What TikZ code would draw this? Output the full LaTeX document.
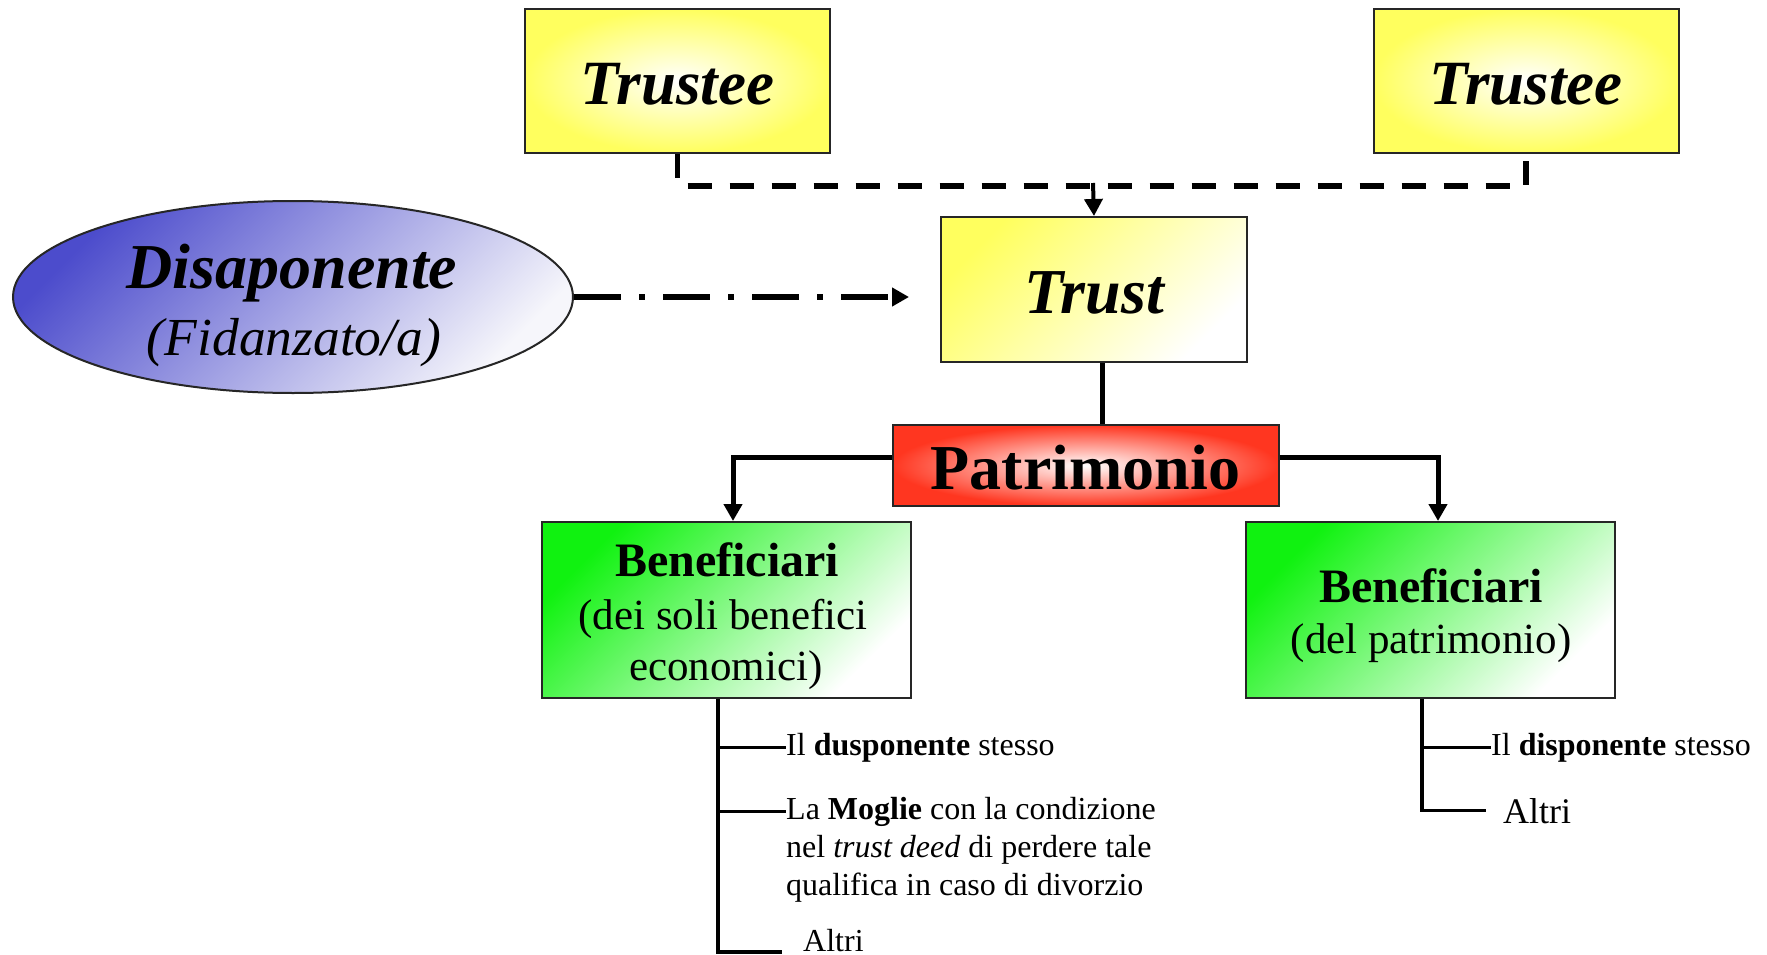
\documentclass[tikz,border=0pt]{standalone}
\usepackage{fontspec}
\setmainfont{Liberation Serif}
\usetikzlibrary{arrows.meta,shapes.geometric,calc}
\definecolor{tyellow}{HTML}{FFFF5E}
\definecolor{tblue}{HTML}{4C4CCC}
\definecolor{tbluew}{HTML}{F6F6FB}
\definecolor{tred}{HTML}{FF3620}
\definecolor{tgreen}{HTML}{10F210}
\newcommand{\fsz}[1]{\fontsize{#1}{#1}\selectfont}
\begin{document}
\begin{tikzpicture}[x=1pt,y=-1pt,
  box/.style={draw=black!85, line width=2pt, inner sep=0pt, rectangle, text depth=0pt},
  trusteebox/.style={box, inner color=white, outer color=tyellow, minimum width=305pt, minimum height=144pt, text height=48pt, font=\fsz{63}\bfseries\itshape},
  trustbox/.style={box, top color=tyellow, bottom color=white, shading angle=45, minimum width=306pt, minimum height=145pt, text height=47pt, font=\fsz{64}\bfseries\itshape},
  patrbox/.style={box, inner color=white, outer color=tred, minimum width=386pt, minimum height=81pt, text height=47pt, font=\fsz{64}\bfseries},
  benbox/.style={box, top color=tgreen, bottom color=white, shading angle=45, minimum width=369pt, minimum height=176pt},
  ellbox/.style={draw=black!85, line width=2pt, ellipse, inner sep=0pt, top color=tblue, bottom color=tbluew, shading angle=45, minimum width=560pt, minimum height=192pt},
  txt/.style={inner sep=0pt, anchor=base},
  listtxt/.style={inner sep=0pt, anchor=base west, font=\fsz{32}},
  conn/.style={line width=5pt},
  arr/.style={-{Triangle[width=18pt,length=17pt]}},
  listline/.style={line width=3.5pt}
]
\fill[white] (0,0) rectangle (1767,955);
\useasboundingbox (0,0) rectangle (1767,955);

% boxes
\node[trusteebox] (t1) at (677.5,81) {Trustee};
\node[trusteebox] (t2) at (1526,81) {Trustee};
\node[trustbox] (trust) at (1094,289.5) {Trust};
\node[ellbox] (ell) at (293,297) {};
\node[txt, font=\fsz{64}\bfseries\itshape] (ellA) at (292,288) {Disaponente};
\node[txt, font=\fsz{53.5}\itshape] (ellB) at (294,355) {(Fidanzato/a)};
\node[patrbox] (patr) at (1085.5,465.5) {Patrimonio};

\node[benbox] (benL) at (726,610) {};
\node[txt, font=\fsz{48}\bfseries] (benLa) at (727,576) {Beneficiari};
\node[txt, font=\fsz{43}] (benLb) at (723,629) {(dei soli benefici};
\node[txt, font=\fsz{43}] (benLc) at (726,680) {economici)};

\node[benbox] (benR) at (1430,610) {};
\node[txt, font=\fsz{48}\bfseries] (benRa) at (1431,602) {Beneficiari};
\node[txt, font=\fsz{43}] (benRb) at (1431,653) {(del patrimonio)};

% lists
\node[listtxt] (L1) at (786,755) {Il \textbf{dusponente} stesso};
\node[listtxt] (L2) at (786,819) {La \textbf{Moglie} con la condizione};
\node[listtxt] (L3) at (786,857) {nel \textit{trust deed} di perdere tale};
\node[listtxt] (L4) at (786,895) {qualifica in caso di divorzio};
\node[listtxt] (L5) at (803,951) {Altri};
\node[listtxt] (R1) at (1491,755) {Il \textbf{disponente} stesso};
\node[listtxt, font=\fsz{36}] (R2) at (1503,823) {Altri};

% trustee dashed connector
\draw[line width=5.5pt, dash pattern=on 24pt off 18pt] (t1.south) -- ++(0,32) -| (t2.south);
\coordinate (dj) at (1093,183);
\draw[line width=4pt, arr] (dj) -- (trust.north);

% disponente -> trust
\coordinate (ddend) at (909,297);
\draw[line width=5.5pt, dash pattern=on 47pt off 18pt on 6pt off 18pt, arr] (ell.east) -- (ddend);

% trust -> patrimonio
\coordinate (ts) at ([xshift=8pt]trust.south);
\draw[conn] (ts) -- (ts |- patr.north);

% patrimonio -> beneficiari
\coordinate (pl) at ([yshift=8pt]patr.west);
\coordinate (bl) at ([xshift=7pt]benL.north);
\draw[conn, arr] (pl) -| (bl);
\coordinate (pr) at ([yshift=8pt]patr.east);
\coordinate (br) at ([xshift=8pt]benR.north);
\draw[conn, arr] (pr) -| (br);

% left list
\coordinate (lt) at ([xshift=-8pt]benL.south);
\coordinate (lb) at ($(lt)+(0,253)$);
\draw[listline] (lt) -- (lb) -- ++(64,0);
\draw[listline] (lt |- L1.west) -- (L1.west);
\draw[listline] (lt |- L2.west) -- (L2.west);

% right list
\coordinate (rt) at ([xshift=-8pt]benR.south);
\draw[listline] (rt) -- (rt |- R2.west) -- ++(64,0);
\draw[listline] (rt |- R1.west) -- (R1.west);
\end{tikzpicture}
\end{document}
